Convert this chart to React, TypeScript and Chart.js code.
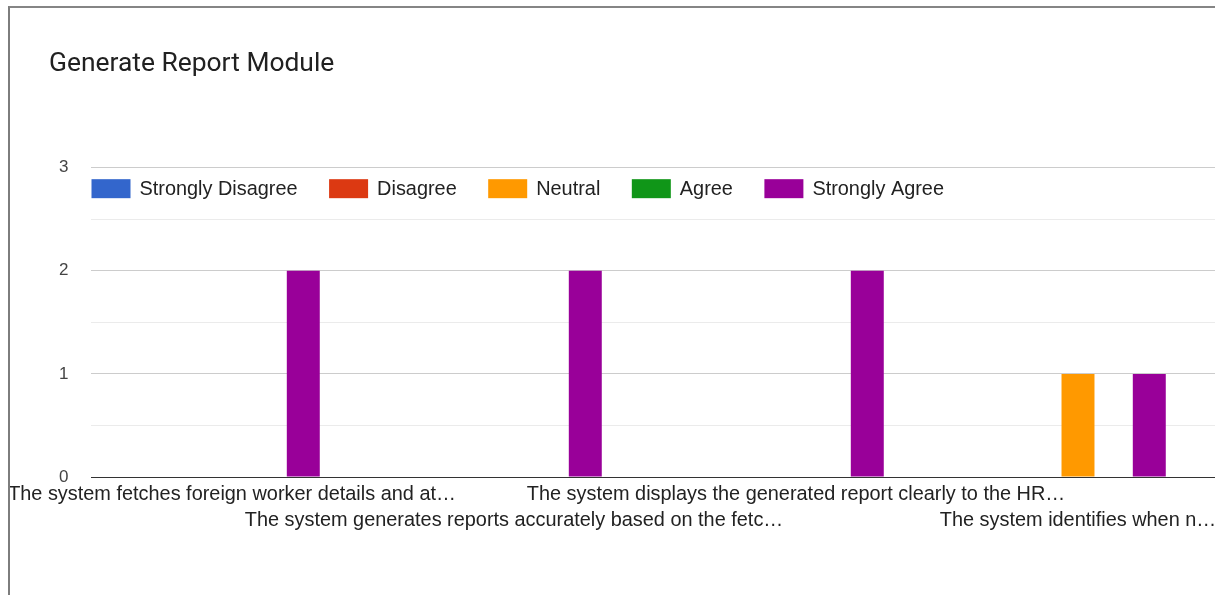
import React, { useEffect, useRef } from "react";
import { Chart, registerables } from "chart.js";

Chart.register(...registerables);

const chartTitle = "Generate Report Module";
const categories = [
  "The system fetches foreign worker details and at…",
  "The system generates reports accurately based on the fetc…",
  "The system displays the generated report clearly to the HR…",
  "The system identifies when n…",
];
const seriesNames = ["Strongly Disagree", "Disagree", "Neutral", "Agree", "Strongly Agree"];
const seriesColors = ["#3366cc", "#dc3912", "#ff9900", "#109618", "#990099"];
const stronglyDisagree = [0, 0, 0, 0];
const disagree = [0, 0, 0, 0];
const neutral = [0, 0, 0, 1];
const agree = [0, 0, 0, 0];
const stronglyAgree = [2, 2, 2, 1];
const seriesValues = [stronglyDisagree, disagree, neutral, agree, stronglyAgree];
const yTicks = [0, 1, 2, 3];

const FONT = 'Arial, "Liberation Sans", sans-serif';

const insideLegend = {
  id: "insideLegend",
  afterDraw(chart: any) {
    const { ctx, chartArea } = chart;
    ctx.save();
    ctx.font = `19.9px ${FONT}`;
    ctx.textBaseline = "middle";
    ctx.textAlign = "left";
    let x = chartArea.left + 0.5;
    const top = chartArea.top + 11.5;
    const bw = 39;
    const bh = 19;
    chart.data.datasets.forEach((ds: any) => {
      ctx.fillStyle = ds.backgroundColor;
      ctx.fillRect(x, top, bw, bh);
      ctx.fillStyle = "#222222";
      const tx = x + bw + 9;
      ctx.fillText(ds.label, tx, top + bh / 2 + 1);
      x = tx + ctx.measureText(ds.label).width + 31.5;
    });
    ctx.restore();
  },
};

export default function App() {
  const ref = useRef<HTMLCanvasElement | null>(null);

  useEffect(() => {
    if (!ref.current) return;
    const chart = new Chart(ref.current, {
      type: "bar",
      data: {
        labels: categories,
        datasets: seriesNames.map((name, i) => ({
          label: name,
          data: seriesValues[i],
          backgroundColor: seriesColors[i],
          borderWidth: 0,
          barPercentage: 0.925,
          categoryPercentage: 0.632,
        })),
      },
      options: {
        responsive: false,
        animation: false,
        devicePixelRatio: 1,
        layout: { padding: { left: 49, right: 21, top: 0, bottom: 56 } },
        plugins: {
          legend: { display: false },
          tooltip: { enabled: false },
          title: {
            display: true,
            text: chartTitle,
            align: "start",
            color: "#212121",
            font: { family: 'Roboto, "Noto Sans", sans-serif', size: 26.4, weight: "normal", lineHeight: 1.2 },
            padding: { top: 48.2, bottom: 87.8 },
          },
        },
        scales: {
          x: {
            afterFit: (scale: any) => {
              scale.paddingLeft = 0;
              scale.paddingRight = 0;
            },
            grid: { display: false, drawTicks: false },
            border: { display: true, color: "#333333", width: 1 },
            ticks: {
              autoSkip: false,
              maxRotation: 0,
              minRotation: 0,
              padding: 5,
              color: "#222222",
              font: { family: FONT, size: 19.9, lineHeight: "26px" },
              callback: function (this: any, value: any, index: number) {
                const l = this.getLabelForValue(value);
                return index % 2 ? ["", l] : l;
              },
            },
          },
          y: {
            min: yTicks[0],
            max: yTicks[yTicks.length - 1],
            afterFit: (scale: any) => {
              scale.width = 42;
            },
            border: { display: false },
            grid: {
              drawTicks: false,
              color: (c: any) =>
                c.tick && c.tick.value === 0
                  ? "#333333"
                  : Number.isInteger(c.tick?.value)
                  ? "#cccccc"
                  : "#ebebeb",
            },
            ticks: {
              stepSize: 0.5,
              padding: 22.5,
              color: "#444444",
              font: { family: FONT, size: 17 },
              callback: (v: any) => (yTicks.includes(Number(v)) ? String(v) : ""),
            },
          },
        },
      },
      plugins: [insideLegend],
    });
    return () => chart.destroy();
  }, []);

  return (
    <div style={{ position: "fixed", left: 0, top: 0, width: 1215, height: 595, overflow: "hidden", background: "#fff" }}>
      <canvas ref={ref} width={1240} height={595} style={{ position: "absolute", left: 0, top: 0, width: 1240, height: 595 }} />
      <div
        style={{
          position: "absolute",
          left: 8,
          top: 6,
          right: 0,
          bottom: 0,
          borderLeft: "2px solid #7d7d7d",
          borderTop: "2px solid #858585",
          pointerEvents: "none",
        }}
      />
    </div>
  );
}
